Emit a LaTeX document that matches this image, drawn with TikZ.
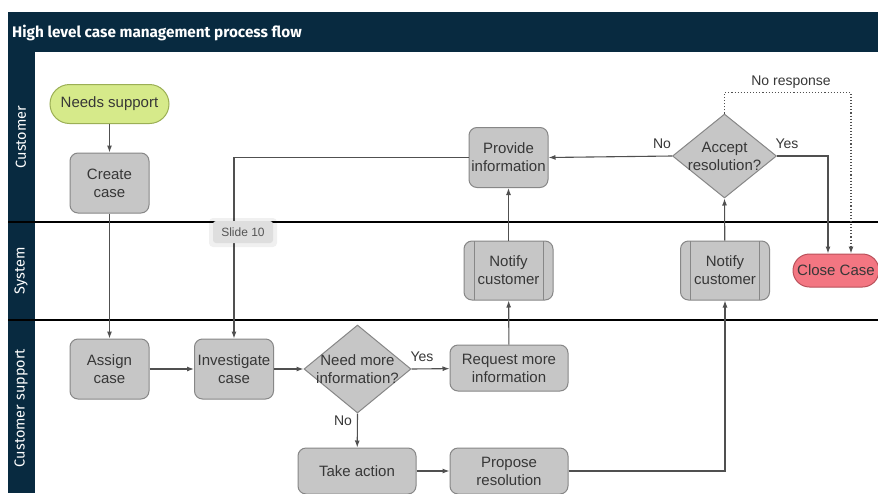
\documentclass[tikz,border=0pt]{standalone}
\usepackage{fontspec}
\setmainfont{Liberation Sans}
\newfontfamily\headfont{Fira Sans}
\usetikzlibrary{shapes.geometric,arrows.meta}

\definecolor{navy}{RGB}{8,42,64}
\definecolor{boxgray}{RGB}{198,198,198}
\definecolor{boxedge}{RGB}{135,135,135}
\definecolor{lime}{RGB}{214,234,138}
\definecolor{limeedge}{RGB}{155,175,85}
\definecolor{rose}{RGB}{243,118,130}
\definecolor{roseedge}{RGB}{185,80,90}
\definecolor{ink}{RGB}{55,55,55}
\definecolor{wire}{RGB}{80,80,80}
\definecolor{tagfill}{RGB}{222,222,222}

\begin{document}
\begin{tikzpicture}[x=1pt,y=-1pt,
  every node/.style={font=\fontsize{15}{18}\selectfont, text=ink},
  procbox/.style={draw=boxedge, fill=boxgray, line width=1pt, rounded corners=8pt,
    align=center, inner sep=0pt, minimum width=79pt, minimum height=60pt},
  widebox/.style={procbox, minimum width=118pt, minimum height=46pt},
  subbox/.style={procbox, minimum width=89pt, minimum height=59pt,
    path picture={
      \draw[boxedge, line width=1pt]
        ([xshift=10pt]path picture bounding box.north west) --
        ([xshift=10pt]path picture bounding box.south west);
      \draw[boxedge, line width=1pt]
        ([xshift=-10pt]path picture bounding box.north east) --
        ([xshift=-10pt]path picture bounding box.south east);}},
  decision/.style={diamond, draw=boxedge, fill=boxgray, line width=1pt,
    inner sep=0pt, minimum width=104pt, minimum height=86pt},
  terminal/.style={line width=1pt, align=center, inner sep=0pt},
  lanelabel/.style={rotate=90, text=white, font=\headfont\fontsize{14.5}{14.5}\selectfont},
  flow/.style={draw=wire, line width=1.1pt, -{Latex[length=7pt,width=5pt]}},
  guard/.style={font=\fontsize{14}{16}\selectfont}
]
\useasboundingbox (0,0) rectangle (878,493);
\fill[white] (0,0) rectangle (878,493);

% title bar and lane header column
\fill[navy] (8,12) rectangle (878,52);
\fill[navy] (8,52) rectangle (35,493);
\node[anchor=base west, text=white, inner sep=0pt,
      font=\headfont\bfseries\fontsize{15.3}{15.3}\selectfont] (title) at (12,37.5)
  {High level case management process flow};

% lane separators
\draw[black, line width=1.8pt] (8,222) -- (878,222);
\draw[black, line width=1.8pt] (8,320) -- (878,320);

\node[lanelabel] (laneA) at (21,137) {Customer};
\node[lanelabel] (laneB) at (21,271) {System};
\node[lanelabel] (laneC) at (21,408) {Customer support};

% customer lane
\node[terminal, draw=limeedge, fill=lime, rounded corners=19.5pt,
      minimum width=119pt, minimum height=39pt] (need) at (109.5,104) {Needs support};
\node[procbox] (create) at (109.5,183) {Create\\case};
\node[procbox] (provide) at (508.5,157.5) {Provide\\information};
\node[decision, minimum height=84pt] (accept) at (724.5,156) {};
\node[align=center] (acceptTxt) at (724.5,156) {Accept\\resolution?};

% system lane
\node[subbox] (notifyA) at (508.5,270.5) {Notify\\customer};
\node[subbox] (notifyB) at (725,270.5) {Notify\\customer};
\node[terminal, draw=roseedge, fill=rose, rounded corners=16.5pt,
      minimum width=86pt, minimum height=33pt] (close) at (836,270.5) {Close Case};

% customer support lane
\node[procbox] (assign) at (109.5,369) {Assign\\case};
\node[procbox] (invest) at (234,369) {Investigate\\case};
\node[decision, minimum width=107pt, minimum height=88pt] (needmore) at (357.5,369) {};
\node[align=center] (needmoreTxt) at (357.5,369) {Need more\\information?};
\node[widebox] (request) at (509,368) {Request more\\information};
\node[widebox] (take) at (357,471) {Take action};
\node[widebox] (propose) at (509,471) {Propose\\resolution};

% connectors
\draw[flow] (need) -- (create);
\draw[flow] (create) -- (assign);
\draw[flow] (assign) -- (invest);
\draw[flow] (invest) -- (needmore);
\draw[flow] (needmore.east) -- (request);
\draw[flow] (needmore.south) -- (take);
\draw[flow] (take) -- (propose);
\draw[flow] (request) -- (notifyA);
\draw[flow] (notifyA) -- (provide);
\draw[flow] (provide.west) -| (invest.north);
\draw[flow] (propose.east) -| (notifyB.south);
\draw[flow] (notifyB) -- (accept.south);
\draw[flow] (accept.west) -- (provide.east);
\draw[flow] (accept.east) -| ([xshift=-8pt]close.north);
\draw[flow, dotted] (accept.north) -- ++(0,-21) -| ([xshift=15pt]close.north);

% branch labels
\node[guard] (yesA) at (422,357) {Yes};
\node[guard] (noA) at (343,421) {No};
\node[guard] (noB) at (662,144) {No};
\node[guard] (yesB) at (787,144) {Yes};
\node[guard] (noresp) at (791,82) {No response};

% slide tag
\fill[black, opacity=0.06, rounded corners=4pt] (209,218) rectangle (277,247);
\node[fill=tagfill, rounded corners=3pt, inner sep=0pt, minimum width=60pt,
      minimum height=22pt, font=\fontsize{12}{12}\selectfont, text={rgb,255:red,85;green,85;blue,85}]
  (tag) at (243,232) {Slide 10};
\end{tikzpicture}
\end{document}
